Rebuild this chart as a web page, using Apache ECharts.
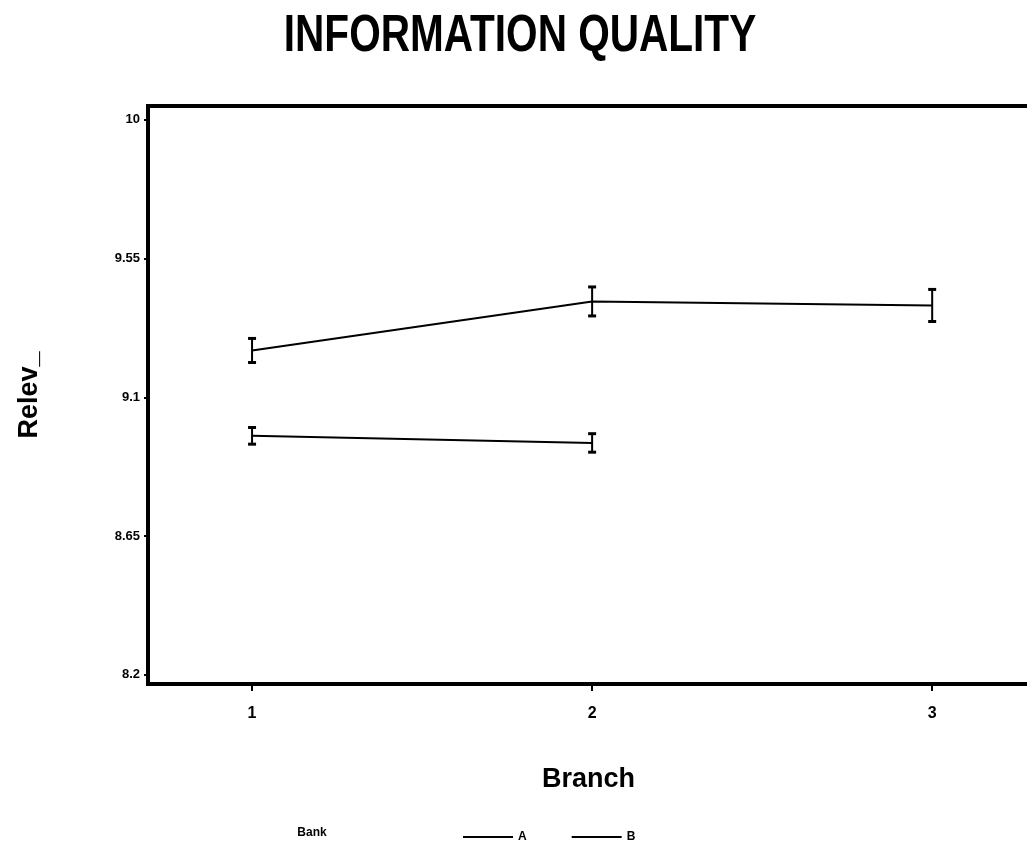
<!DOCTYPE html>
<html>
<head>
<meta charset="utf-8">
<script src="https://cdn.jsdelivr.net/npm/echarts@6/dist/echarts.min.js"></script>
<style>
html,body{margin:0;padding:0;background:#fff;}
#chart{width:1027px;height:841px;}
</style>
</head>
<body>
<div id="chart"></div>
<script>
// ---- data ----
var branchesA = [1, 2, 3];
var meanA = [9.252, 9.411, 9.398];
var errA = [0.039, 0.047, 0.052];
var branchesB = [1, 2];
var meanB = [8.975, 8.952];
var errB = [0.027, 0.030];
var xTicks = [1, 2, 3];
var yTicks = [8.2, 8.65, 9.1, 9.55, 10];
var yTickLabels = ['8.2', '8.65', '9.1', '9.55', '10'];
var seriesNames = ['A', 'B'];
var titleText = 'INFORMATION QUALITY';

function pairs(xs, ys) { return xs.map(function (x, i) { return [x, ys[i]]; }); }
function errRows(xs, ys, es) { return xs.map(function (x, i) { return [x, ys[i] - es[i], ys[i] + es[i]]; }); }

function errRender(params, api) {
  var x = api.value(0);
  var lo = api.coord([x, api.value(1)]);
  var hi = api.coord([x, api.value(2)]);
  var w = 4;
  return {
    type: 'group',
    children: [
      { type: 'line', shape: { x1: lo[0], y1: lo[1], x2: hi[0], y2: hi[1] }, style: { stroke: '#000', lineWidth: 2 } },
      { type: 'line', shape: { x1: lo[0] - w, y1: lo[1], x2: lo[0] + w, y2: lo[1] }, style: { stroke: '#000', lineWidth: 3 } },
      { type: 'line', shape: { x1: hi[0] - w, y1: hi[1], x2: hi[0] + w, y2: hi[1] }, style: { stroke: '#000', lineWidth: 3 } }
    ]
  };
}

var chart = echarts.init(document.getElementById('chart'), null, { renderer: 'canvas' });
var fam = 'Liberation Sans, Arial, sans-serif';
chart.setOption({
  backgroundColor: '#fff',
  animation: false,
  graphic: [
    { type: 'text', x: 520, y: 37, scaleX: 0.78, style: { text: titleText, font: 'bold 52px ' + fam, fill: '#000', align: 'center', verticalAlign: 'middle' } },
    { type: 'text', x: 312, y: 833, style: { text: 'Bank', font: 'bold 12px ' + fam, fill: '#000', align: 'center', verticalAlign: 'middle' } }
  ],
  legend: {
    data: seriesNames,
    left: 458,
    top: 826,
    icon: 'rect',
    itemWidth: 50,
    itemHeight: 2,
    itemGap: 45,
    textStyle: { fontFamily: fam, fontWeight: 'bold', fontSize: 12, color: '#000' }
  },
  grid: {
    left: 148, top: 106, width: 893, height: 578,
    outerBoundsMode: 'none',
    show: true, borderColor: '#000', borderWidth: 4, containLabel: false
  },
  xAxis: {
    type: 'value', min: 0.694, max: 3.32,
    name: 'Branch', nameLocation: 'middle', nameGap: 82,
    nameTextStyle: { fontFamily: fam, fontWeight: 'bold', fontSize: 27, color: '#000', padding: [0, 12, 0, 0] },
    axisLine: { show: false },
    splitLine: { show: false },
    axisTick: { show: true, customValues: xTicks, length: 7, inside: false, lineStyle: { color: '#000', width: 2 } },
    axisLabel: { customValues: xTicks, margin: 22, fontFamily: fam, fontWeight: 'bold', fontSize: 16, color: '#000' }
  },
  yAxis: {
    type: 'value', min: 8.17, max: 10.045,
    name: 'Relev_', nameLocation: 'middle', nameGap: 105, nameRotate: 90,
    nameTextStyle: { fontFamily: fam, fontWeight: 'bold', fontSize: 27, color: '#000' },
    axisLine: { show: false },
    splitLine: { show: false },
    axisTick: { show: true, customValues: yTicks, length: 4, inside: false, lineStyle: { color: '#000', width: 2 } },
    axisLabel: {
      customValues: yTicks, margin: 8, fontFamily: fam, fontWeight: 'bold', fontSize: 13, color: '#000',
      formatter: function (v) { var i = yTicks.indexOf(v); return i >= 0 ? yTickLabels[i] : ''; }
    }
  },
  series: [
    { name: seriesNames[0], type: 'line', data: pairs(branchesA, meanA), symbol: 'none', lineStyle: { color: '#000', width: 2 }, itemStyle: { color: '#000' } },
    { name: seriesNames[1], type: 'line', data: pairs(branchesB, meanB), symbol: 'none', lineStyle: { color: '#000', width: 2 }, itemStyle: { color: '#000' } },
    { type: 'custom', renderItem: errRender, data: errRows(branchesA, meanA, errA), encode: { x: 0, y: [1, 2] }, z: 3 },
    { type: 'custom', renderItem: errRender, data: errRows(branchesB, meanB, errB), encode: { x: 0, y: [1, 2] }, z: 3 }
  ]
});
</script>
</body>
</html>
